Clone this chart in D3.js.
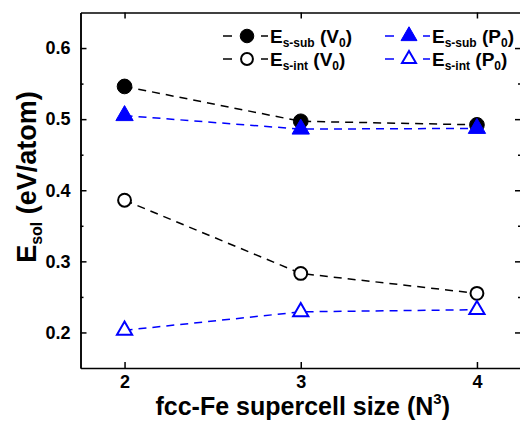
<!DOCTYPE html>
<html>
<head>
<meta charset="utf-8">
<script src="https://cdn.jsdelivr.net/npm/d3@7"></script>
<style>
  body { margin: 0; background: #fff; }
  text { font-family: "Liberation Sans", Arial, sans-serif; font-weight: bold; }
</style>
</head>
<body>
<div id="chart"></div>
<script>
// supercell sizes
const sizes = [2, 3, 4];

// solution energies (eV/atom)
const subV0 = [0.546, 0.497, 0.492];
const subP0 = [0.505, 0.486, 0.487];
const intV0 = [0.386, 0.283, 0.255];
const intP0 = [0.203, 0.229, 0.232];

const xTicks = [2, 3, 4];
const yTicks = [0.2, 0.3, 0.4, 0.5, 0.6];
const yMinor = [0.25, 0.35, 0.45, 0.55];

const width = 520, height = 421;
const plotLeft = 80.5, plotRight = 521, plotTop = 12.5, plotBottom = 368;

const svg = d3.select("#chart").append("svg")
    .attr("width", width)
    .attr("height", height);

const x = d3.scaleLinear().domain([1.75, 4.25]).range([plotLeft, plotRight]);
const y = d3.scaleLinear().domain([0.15, 0.65]).range([plotBottom, plotTop]);

// axes - ticks pointing inward on all four sides
const axisStyle = g => {
    g.select(".domain").attr("stroke", "#000").attr("stroke-width", 1.5);
    g.selectAll(".tick line").attr("stroke", "#000").attr("stroke-width", 1.5);
    g.selectAll(".tick text").attr("font-size", 18).attr("fill", "#000");
};

svg.append("g")
    .attr("transform", "translate(0," + plotBottom + ")")
    .call(d3.axisBottom(x).tickValues(xTicks).tickSize(-6).tickPadding(7).tickFormat(d3.format("d")).tickSizeOuter(0))
    .call(axisStyle);

svg.append("g")
    .attr("transform", "translate(0," + plotTop + ")")
    .call(d3.axisTop(x).tickValues(xTicks).tickSize(-6).tickFormat("").tickSizeOuter(0))
    .call(axisStyle);

svg.append("g")
    .attr("transform", "translate(" + plotLeft + ",0)")
    .call(d3.axisLeft(y).tickValues(yTicks).tickSize(-6).tickPadding(10).tickFormat(d3.format(".1f")).tickSizeOuter(0))
    .call(axisStyle);

svg.append("g")
    .attr("transform", "translate(" + plotLeft + ",0)")
    .call(d3.axisLeft(y).tickValues(yMinor).tickSize(-3).tickFormat("").tickSizeOuter(0))
    .call(axisStyle);

svg.append("g")
    .attr("transform", "translate(" + plotRight + ",0)")
    .call(d3.axisRight(y).tickValues(yTicks).tickSize(-6).tickFormat("").tickSizeOuter(0))
    .call(axisStyle);

svg.append("g")
    .attr("transform", "translate(" + plotRight + ",0)")
    .call(d3.axisRight(y).tickValues(yMinor).tickSize(-3).tickFormat("").tickSizeOuter(0))
    .call(axisStyle);

// series definitions
const series = [
    {vals: subV0, color: "#000", shape: d3.symbolCircle, fill: true, size: 170},
    {vals: intV0, color: "#000", shape: d3.symbolCircle, fill: false, size: 130},
    {vals: subP0, color: "#0000ff", shape: d3.symbolTriangle, fill: true, size: 130},
    {vals: intP0, color: "#0000ff", shape: d3.symbolTriangle, fill: false, size: 100}
];

const line = d3.line()
    .x((d, i) => x(sizes[i]))
    .y(d => y(d));

series.forEach(s => {
    svg.append("path")
        .attr("d", line(s.vals))
        .attr("fill", "none")
        .attr("stroke", s.color)
        .attr("stroke-width", 1.5)
        .attr("stroke-dasharray", "8,6");
});

series.forEach(s => {
    svg.selectAll(null)
        .data(s.vals)
        .enter().append("path")
        .attr("transform", (d, i) => "translate(" + x(sizes[i]) + "," + y(d) + ")")
        .attr("d", d3.symbol().type(s.shape).size(s.size))
        .attr("fill", s.fill ? s.color : "#fff")
        .attr("stroke", s.color)
        .attr("stroke-width", s.fill ? 1 : 2);
});

// legend
const legend = [
    {s: series[0], lx: 223, ly: 36, sub: "s-sub", tail: "V"},
    {s: series[1], lx: 223, ly: 59, sub: "s-int", tail: "V"},
    {s: series[2], lx: 385, ly: 36, sub: "s-sub", tail: "P"},
    {s: series[3], lx: 385, ly: 59, sub: "s-int", tail: "P"}
];

legend.forEach(l => {
    const g = svg.append("g").attr("transform", "translate(" + l.lx + "," + l.ly + ")");
    [[0, 9], [38, 45]].forEach(seg => {
        g.append("line")
            .attr("x1", seg[0]).attr("x2", seg[1])
            .attr("stroke", l.s.color)
            .attr("stroke-width", 1.5);
    });
    g.append("path")
        .attr("transform", "translate(24,0)")
        .attr("d", d3.symbol().type(l.s.shape).size(l.s.size * 0.85))
        .attr("fill", l.s.fill ? l.s.color : "#fff")
        .attr("stroke", l.s.color)
        .attr("stroke-width", l.s.fill ? 1 : 2);
    const t = g.append("text")
        .attr("x", 47).attr("y", 7)
        .attr("font-size", 19)
        .attr("fill", "#000");
    t.append("tspan").text("E");
    t.append("tspan").attr("font-size", 12).attr("dy", 4).text(l.sub);
    t.append("tspan").attr("dy", -4).text(" (" + l.tail);
    t.append("tspan").attr("font-size", 12).attr("dy", 4).text("0");
    t.append("tspan").attr("dy", -4).text(")");
});

// axis titles
const xt = svg.append("text")
    .attr("x", (plotLeft + plotRight) / 2 + 2)
    .attr("y", 414.5)
    .attr("text-anchor", "middle")
    .attr("font-size", 25)
    .attr("fill", "#000");
xt.append("tspan").text("fcc-Fe supercell size (N");
xt.append("tspan").attr("font-size", 15).attr("dy", -11).text("3");
xt.append("tspan").attr("dy", 11).text(")");

const yt = svg.append("text")
    .attr("transform", "translate(36,177) rotate(-90)")
    .attr("text-anchor", "middle")
    .attr("font-size", 27)
    .attr("fill", "#000");
yt.append("tspan").text("E");
yt.append("tspan").attr("font-size", 16).attr("dy", 6).text("sol");
yt.append("tspan").attr("dy", -6).text(" (eV/atom)");
</script>
</body>
</html>
